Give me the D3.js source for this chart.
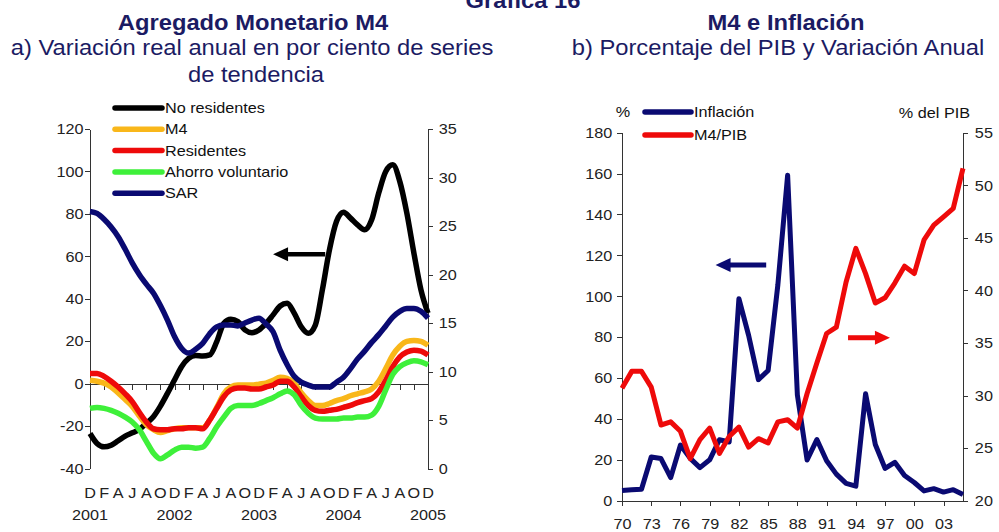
<!DOCTYPE html>
<html>
<head>
<meta charset="utf-8">
<script src="https://cdn.jsdelivr.net/npm/d3@7/dist/d3.min.js"></script>
<style>
    body { margin: 0; background: #fff; }
    svg { display: block; font-family: "Liberation Sans", Arial, sans-serif; }
    .axis path, .axis line { stroke: #333; stroke-width: 1; shape-rendering: crispEdges; }
    .axis text { fill: #222; font-size: 15px; }
    .title { fill: #1b1b63; }
</style>
</head>
<body>
<svg id="chart" width="999" height="532"></svg>
<script>
// ---- a) Agregado Monetario M4, monthly Dec 2001 .. Dec 2005 ----
var monthIdx = d3.range(49);
var monthLetters = ["D","F","A","J","A","O","D","F","A","J","A","O","D","F","A","J","A","O","D","F","A","J","A","O","D"];
var yearLabelsA = ["2001", "2002", "2003", "2004", "2005"];
var leftTicksA = [-40, -20, 0, 20, 40, 60, 80, 100, 120];
var rightTicksA = [0, 5, 10, 15, 20, 25, 30, 35];

// left axis
var noResidentes = [-23.5,-28.2,-29.8,-29,-26.9,-24.7,-23.2,-21.6,-18.7,-15.6,-10.6,-4.6,1.7,8,11.9,13.2,13,13.5,19.8,28.4,30.3,29.2,25.3,24,25.3,28.4,32.4,36.6,37.9,33.2,26.8,23.7,27.6,44.2,63,76.4,80.8,78,74.8,72.5,77.2,89.8,100,103.1,95.2,80.3,61.5,44.2,33.2];
// right axis
var m4 = [9.1,9.0,8.8,8.4,7.8,7.1,6.4,5.4,4.5,4.0,3.7,3.9,4.1,4.2,4.2,4.2,4.2,5.0,6.3,7.7,8.4,8.6,8.6,8.6,8.7,8.8,9.1,9.4,9.3,8.8,7.8,7.0,6.5,6.5,6.7,7.0,7.2,7.5,7.7,7.9,8.2,9.0,10.3,11.7,12.6,13.1,13.2,13.1,12.7];
var residentes = [9.8,9.8,9.5,9.0,8.4,7.7,6.9,5.8,4.8,4.1,4.0,4.0,4.1,4.1,4.2,4.2,4.1,5.0,6.2,7.4,8.1,8.3,8.3,8.2,8.2,8.4,8.6,9.0,9.0,8.4,7.4,6.5,6.0,5.9,6.0,6.1,6.3,6.5,6.8,7.0,7.2,7.9,9.1,10.5,11.5,12.0,12.2,12.1,11.7];
var ahorroVoluntario = [6.2,6.3,6.2,6.0,5.7,5.3,4.8,4.0,2.8,1.6,1.0,1.4,1.9,2.2,2.2,2.1,2.2,3.1,4.3,5.3,6.2,6.5,6.5,6.5,6.7,7.0,7.3,7.7,8.0,7.6,6.5,5.7,5.2,5.1,5.1,5.1,5.2,5.2,5.3,5.3,5.5,6.4,8.1,9.7,10.5,10.9,11.1,11.0,10.7];
var sar = [26.5,26.3,25.7,24.9,23.9,22.6,21.2,20.0,19.0,18.1,16.8,15.3,13.6,12.4,11.9,12.3,12.9,13.9,14.6,14.8,14.8,14.7,15.0,15.3,15.5,14.9,14.1,12.2,10.7,9.5,8.9,8.6,8.4,8.4,8.4,8.9,9.4,10.3,11.3,12.1,13.0,13.8,14.7,15.6,16.2,16.5,16.5,16.2,15.5];

// ---- b) M4 e Inflación, annual 1970 .. 2005 ----
var years = d3.range(1970, 2006);
var yearTicksB = [1970, 1973, 1976, 1979, 1982, 1985, 1988, 1991, 1994, 1997, 2000, 2003];
var yearLabelsB = ["70", "73", "76", "79", "82", "85", "88", "91", "94", "97", "00", "03"];
var leftTicksB = [0, 20, 40, 60, 80, 100, 120, 140, 160, 180];
var rightTicksB = [20, 25, 30, 35, 40, 45, 50, 55];
var inflacion = [5,5.3,5.6,21.4,20.6,11.3,27.2,20.7,16.2,20,29.8,28.7,98.8,80.8,59.2,63.7,105.7,159.2,51.7,19.9,29.9,19.5,13,8.5,7.1,52.3,27.5,15.8,18.8,12.3,8.9,4.8,5.9,4.2,5.4,3];
var m4Pib = [30.7,32.3,32.3,30.8,27.2,27.5,26.6,24.0,25.8,26.9,24.5,26.1,27.0,25.1,25.9,25.5,27.5,27.7,26.9,30.2,33.1,35.9,36.5,40.8,44.0,41.6,38.8,39.3,40.7,42.3,41.6,44.8,46.2,47.0,47.8,51.6];

( function(d3) {

    var svg = d3.select("#chart");
    var K = 1.08; // the original image is a bit wider than tall

    function text(x, y, str, size, anchor, weight, cls) {
        return svg.append("text")
            .attr("class", cls || null)
            .attr("transform", "translate(" + x + "," + y + ") scale(" + K + ",1)")
            .attr("text-anchor", anchor || "middle")
            .style("font-size", size + "px")
            .style("font-weight", weight || "normal")
            .style("fill", cls ? null : "#111")
            .text(str);
    }

    function arrow(x1, x2, y, color, w) {
        var dir = x2 > x1 ? 1 : -1,
            head = 15;
        svg.append("line")
            .attr("x1", x1).attr("x2", x2 - dir * head + dir)
            .attr("y1", y).attr("y2", y)
            .style("stroke", color)
            .style("stroke-width", w);
        svg.append("path")
            .attr("d", "M" + x2 + "," + y + "L" + (x2 - dir * head) + "," + (y - 7) + "L" + (x2 - dir * head) + "," + (y + 7) + "Z")
            .style("fill", color);
    }

    function stretchTicks(g) {
        g.selectAll("text").attr("transform", "scale(" + K + ",1)");
    }

    // plain hyphen for negatives, like the original
    var plain = function(d) { return String(d); };

    // titles
    text(523, 8, "Gráfica 16", 22, "middle", "bold", "title");
    text(253, 30, "Agregado Monetario M4", 22, "middle", "bold", "title");
    text(252, 55, "a) Variación real anual en por ciento de series", 22, "middle", "normal", "title");
    text(256, 82, "de tendencia", 22, "middle", "normal", "title");
    text(786, 30, "M4 e Inflación", 22, "middle", "bold", "title");
    text(778, 55, "b) Porcentaje del PIB y Variación Anual", 22, "middle", "normal", "title");

    // ---------- chart a ----------
    var xA = d3.scaleLinear().domain([0, 48]).range([90, 428]),
        yA = d3.scaleLinear().domain([-40, 120]).range([468.5, 129]),
        yA2 = d3.scaleLinear().domain([0, 35]).range([468.5, 129]);

    svg.append("g").attr("class", "axis")
        .attr("transform", "translate(" + xA.range()[0] + ",0)")
        .call(d3.axisLeft(yA).tickValues(leftTicksA).tickFormat(plain).tickSize(5).tickPadding(1).tickSizeOuter(0))
        .call(stretchTicks);

    svg.append("g").attr("class", "axis")
        .attr("transform", "translate(" + xA.range()[1] + ",0)")
        .call(d3.axisRight(yA2).tickValues(rightTicksA).tickFormat(plain).tickSize(5).tickPadding(5).tickSizeOuter(0))
        .call(stretchTicks);

    svg.append("g").attr("class", "axis")
        .attr("transform", "translate(0," + yA(0) + ")")
        .call(d3.axisBottom(xA).tickValues(d3.range(0, 49, 2)).tickSize(6).tickSizeOuter(0).tickFormat(""));

    monthLetters.forEach(function(m, i) {
        text(xA(i * 2), 498, m, 15, "middle", "normal").style("fill", "#222");
    });
    yearLabelsA.forEach(function(y, i) {
        text(xA(i * 12), 520, y, 15, "middle", "normal").style("fill", "#222");
    });

    var seriesA = [
        { name: "No residentes", values: noResidentes, color: "#000000", y: yA },
        { name: "M4", values: m4, color: "#f9b71a", y: yA2 },
        { name: "Residentes", values: residentes, color: "#ee0a0a", y: yA2 },
        { name: "Ahorro voluntario", values: ahorroVoluntario, color: "#3ef03a", y: yA2 },
        { name: "SAR", values: sar, color: "#0a0a72", y: yA2 }
    ];

    seriesA.forEach(function(s) {
        var line = d3.line()
            .x(function(d, i) { return xA(monthIdx[i]); })
            .y(function(d) { return s.y(d); })
            .curve(d3.curveMonotoneX);
        svg.append("path")
            .attr("d", line(s.values))
            .style("fill", "none")
            .style("stroke", s.color)
            .style("stroke-width", 5.5)
            .style("stroke-linejoin", "round");
    });

    // legend a
    seriesA.forEach(function(s, i) {
        var y = 108 + i * 21.3;
        svg.append("line")
            .attr("x1", 115).attr("x2", 162)
            .attr("y1", y).attr("y2", y)
            .style("stroke", s.color)
            .style("stroke-width", 5.5)
            .style("stroke-linecap", "round");
        text(165, y + 5, s.name, 15, "start", "normal");
    });

    arrow(xA(33.4), xA(26), yA(61), "#000", 4.5);

    // ---------- chart b ----------
    var xB = d3.scaleLinear().domain([1970, 2005]).range([622, 963]),
        yB = d3.scaleLinear().domain([0, 180]).range([500.7, 132.7]),
        yB2 = d3.scaleLinear().domain([20, 55]).range([500.7, 132.7]);

    svg.append("g").attr("class", "axis")
        .attr("transform", "translate(" + xB.range()[0] + ",0)")
        .call(d3.axisLeft(yB).tickValues(leftTicksB).tickFormat(plain).tickSize(5).tickPadding(4).tickSizeOuter(0))
        .call(stretchTicks);

    svg.append("g").attr("class", "axis")
        .attr("transform", "translate(" + xB.range()[1] + ",0)")
        .call(d3.axisRight(yB2).tickValues(rightTicksB).tickFormat(plain).tickSize(5).tickPadding(6).tickSizeOuter(0))
        .call(stretchTicks);

    svg.append("g").attr("class", "axis")
        .attr("transform", "translate(0," + yB(0) + ")")
        .call(d3.axisBottom(xB).tickValues(yearTicksB).tickSize(5).tickPadding(13).tickSizeOuter(0)
            .tickFormat(function(d, i) { return yearLabelsB[i]; }))
        .call(stretchTicks);

    var seriesB = [
        { name: "Inflación", values: inflacion, color: "#0a0a72", y: yB },
        { name: "M4/PIB", values: m4Pib, color: "#ee0a0a", y: yB2 }
    ];

    seriesB.forEach(function(s) {
        var line = d3.line()
            .x(function(d, i) { return xB(years[i]); })
            .y(function(d) { return s.y(d); });
        svg.append("path")
            .attr("d", line(s.values))
            .style("fill", "none")
            .style("stroke", s.color)
            .style("stroke-width", 5)
            .style("stroke-linejoin", "round");
    });

    // legend b
    seriesB.forEach(function(s, i) {
        var y = 112 + i * 23;
        svg.append("line")
            .attr("x1", 645).attr("x2", 691)
            .attr("y1", y).attr("y2", y)
            .style("stroke", s.color)
            .style("stroke-width", 5.5)
            .style("stroke-linecap", "round");
        text(694, y + 5, s.name, 15, "start", "normal");
    });
    text(623, 117, "%", 15, "middle", "normal");
    text(970, 118, "% del PIB", 15, "end", "normal");

    arrow(xB(1984.8), xB(1979.6), yB(115.3), "#0a0a72", 5);
    arrow(xB(1993.2), xB(1997.5), yB2(35.5), "#ee0a0a", 5);

})(d3);
</script>
</body>
</html>
